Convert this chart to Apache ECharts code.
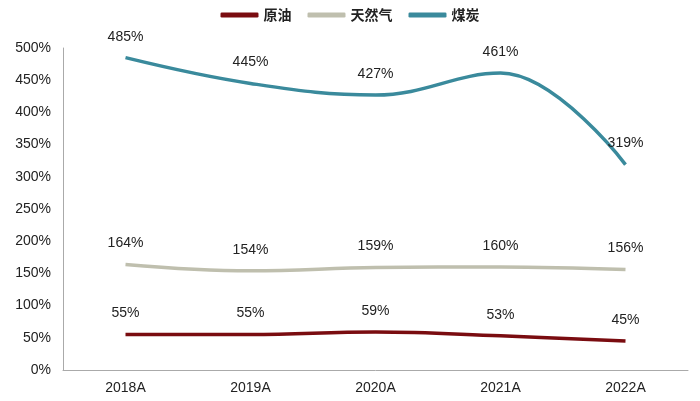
<!DOCTYPE html>
<html><head><meta charset="utf-8">
<script src="https://cdn.jsdelivr.net/npm/echarts@6/dist/echarts.min.js"></script>
<style>html,body{margin:0;padding:0;background:#fff}#c{width:700px;height:401px}</style>
</head><body><div id="c"></div>
<script>
const categories = ['2018A','2019A','2020A','2021A','2022A'];
const crudeOil = [55,55,59,53,45];
const naturalGas = [164,154,159,160,156];
const coal = [485,445,427,461,319];
const seriesNames = ['原油','天然气','煤炭'];
const colors = ['#7a0c10','#bfbfae','#3a8a9c'];

const chart = echarts.init(document.getElementById('c'));
function mk(name, data, color){
  return {
    name, type:'line', data, smooth:0.4, symbol:'circle', symbolSize:0.01, showSymbol:true,
    lineStyle:{width:3.5, color}, itemStyle:{color},
    label:{show:true, position:'top', distance:14, formatter:'{c}%',
      fontFamily:'Liberation Sans, Arial', fontSize:14, color:'#222'}
  };
}
chart.setOption({
  animation:false,
  textStyle:{fontFamily:'Liberation Sans, Arial'},
  legend:{top:3, left:'center', itemWidth:38, itemHeight:5, itemGap:16,
    icon:'roundRect',
    textStyle:{fontFamily:'Noto Sans CJK SC', fontSize:14, fontWeight:'bold', color:'#222'},
    data:seriesNames},
  grid:{left:63, right:12, top:48, bottom:31},
  xAxis:{type:'category', data:categories, boundaryGap:true,
    axisLine:{lineStyle:{color:'#aaa'}}, axisTick:{show:false},
    axisLabel:{fontSize:14, color:'#222', margin:11}},
  yAxis:{type:'value', min:0, max:500, interval:50,
    axisLine:{show:true, lineStyle:{color:'#aaa'}}, axisTick:{show:false},
    splitLine:{show:false},
    axisLabel:{formatter:'{value}%', fontSize:14, color:'#222', margin:12}},
  series:[mk(seriesNames[0],crudeOil,colors[0]), mk(seriesNames[1],naturalGas,colors[1]), mk(seriesNames[2],coal,colors[2])]
});
</script></body></html>
